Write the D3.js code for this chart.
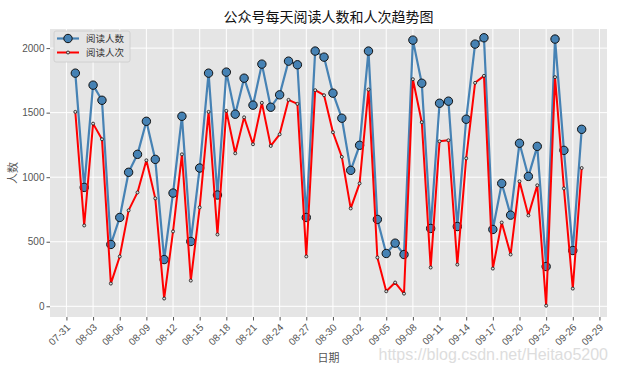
<!DOCTYPE html>
<html>
<head>
<meta charset="utf-8">
<script src="https://cdn.jsdelivr.net/npm/d3@7"></script>
<style>
  body { margin: 0; background: #fff; }
  text { font-family: "Liberation Sans", "Noto Sans CJK SC", sans-serif; }
  .cjk { font-family: "Noto Sans CJK SC", sans-serif; }
</style>
</head>
<body>
<svg id="chart" width="617" height="371"></svg>
<script>
// dates 08-01 .. 09-27
var dates = [
  '2019-08-01','2019-08-02','2019-08-03','2019-08-04','2019-08-05','2019-08-06','2019-08-07','2019-08-08',
  '2019-08-09','2019-08-10','2019-08-11','2019-08-12','2019-08-13','2019-08-14','2019-08-15','2019-08-16',
  '2019-08-17','2019-08-18','2019-08-19','2019-08-20','2019-08-21','2019-08-22','2019-08-23','2019-08-24',
  '2019-08-25','2019-08-26','2019-08-27','2019-08-28','2019-08-29','2019-08-30','2019-08-31','2019-09-01',
  '2019-09-02','2019-09-03','2019-09-04','2019-09-05','2019-09-06','2019-09-07','2019-09-08','2019-09-09',
  '2019-09-10','2019-09-11','2019-09-12','2019-09-13','2019-09-14','2019-09-15','2019-09-16','2019-09-17',
  '2019-09-18','2019-09-19','2019-09-20','2019-09-21','2019-09-22','2019-09-23','2019-09-24','2019-09-25',
  '2019-09-26','2019-09-27'
];

// 阅读人数
var readers = [
  1806, 921, 1713, 1596, 479, 688, 1038, 1177, 1433, 1138,
  362, 877, 1472, 502, 1071, 1806, 862, 1814, 1488, 1767,
  1558, 1876, 1542, 1638, 1899, 1871, 688, 1977, 1930, 1651,
  1457, 1053, 1247, 1977, 673, 409, 489, 401, 2062, 1728,
  603, 1573, 1589, 618, 1449, 2031, 2080, 595, 952, 706,
  1263, 1006, 1239, 308, 2070, 1208, 432, 1371
];

// 阅读人次
var reads = [
  1506, 626, 1415, 1294, 176, 386, 743, 882, 1131, 836,
  60, 580, 1177, 199, 766, 1506, 556, 1514, 1185, 1464,
  1255, 1576, 1242, 1332, 1599, 1568, 386, 1674, 1635, 1348,
  1157, 758, 952, 1679, 378, 116, 184, 98, 1759, 1426,
  300, 1278, 1286, 323, 1146, 1731, 1785, 292, 649, 401,
  968, 704, 937, 5, 1775, 913, 137, 1071
];

var xTickLabels = ['07-31','08-03','08-06','08-09','08-12','08-15','08-18','08-21','08-24','08-27',
  '08-30','09-02','09-05','09-08','09-11','09-14','09-17','09-20','09-23','09-26','09-29'];
var yTicks = [0, 500, 1000, 1500, 2000];

var parse = d3.timeParse('%Y-%m-%d');
var days = dates.map(parse);
var tickDates = xTickLabels.map(function (s) { return parse('2019-' + s); });

var margin = { left: 50, right: 10, top: 29, bottom: 54 };
var W = 617, H = 371;
var svg = d3.select('#chart');

// matplotlib-like 5% margins on x
var ext = d3.extent(days);
var pad = (ext[1] - ext[0]) * 0.05;
var x = d3.scaleTime()
  .domain([new Date(+ext[0] - pad), new Date(+ext[1] + pad)])
  .range([margin.left, W - margin.right]);
var y = d3.scaleLinear()
  .domain([-83, 2148])
  .range([H - margin.bottom, margin.top]);

svg.append('rect')
  .attr('x', margin.left).attr('y', margin.top)
  .attr('width', W - margin.left - margin.right)
  .attr('height', H - margin.top - margin.bottom)
  .attr('fill', '#e5e5e5');

// grid
var grid = svg.append('g');
grid.selectAll('.gx').data(tickDates).enter().append('line')
  .attr('x1', function (d) { return x(d); }).attr('x2', function (d) { return x(d); })
  .attr('y1', margin.top).attr('y2', H - margin.bottom)
  .attr('stroke', '#fff').attr('stroke-width', 1);
grid.selectAll('.gy').data(yTicks).enter().append('line')
  .attr('y1', function (d) { return y(d); }).attr('y2', function (d) { return y(d); })
  .attr('x1', margin.left).attr('x2', W - margin.right)
  .attr('stroke', '#fff').attr('stroke-width', 1);

// axes
var xAxis = svg.append('g')
  .attr('transform', 'translate(0,' + (H - margin.bottom) + ')')
  .call(d3.axisBottom(x).tickValues(tickDates).tickFormat(d3.timeFormat('%m-%d')).tickSize(3.5).tickPadding(2));
xAxis.select('.domain').remove();
xAxis.selectAll('line').attr('stroke', '#555');
xAxis.selectAll('text')
  .attr('fill', '#555').style('font-size', '10px')
  .attr('text-anchor', 'end')
  .attr('dy', '0.3em')
  .attr('transform', 'translate(-2,5) rotate(-45)');

var yAxis = svg.append('g')
  .attr('transform', 'translate(' + margin.left + ',0)')
  .call(d3.axisLeft(y).tickValues(yTicks).tickFormat(d3.format('d')).tickSize(3.5).tickPadding(2));
yAxis.select('.domain').remove();
yAxis.selectAll('line').attr('stroke', '#555');
yAxis.selectAll('text').attr('fill', '#555').style('font-size', '10px');

// series
var line = function (vals) {
  return d3.line()
    .x(function (d, i) { return x(days[i]); })
    .y(function (d) { return y(d); })(vals);
};

svg.append('path').attr('d', line(readers))
  .attr('fill', 'none').attr('stroke', '#4682b4').attr('stroke-width', 2.2)
  .attr('stroke-linejoin', 'round');
svg.append('g').selectAll('circle').data(readers).enter().append('circle')
  .attr('cx', function (d, i) { return x(days[i]); })
  .attr('cy', function (d) { return y(d); })
  .attr('r', 4.2)
  .attr('fill', '#4682b4').attr('stroke', '#111').attr('stroke-width', 1);

svg.append('path').attr('d', line(reads))
  .attr('fill', 'none').attr('stroke', '#ff0000').attr('stroke-width', 2)
  .attr('stroke-linejoin', 'round');
svg.append('g').selectAll('circle').data(reads).enter().append('circle')
  .attr('cx', function (d, i) { return x(days[i]); })
  .attr('cy', function (d) { return y(d); })
  .attr('r', 1.5)
  .attr('fill', '#ddd').attr('stroke', '#111').attr('stroke-width', 0.8);

// legend
var lg = svg.append('g');
lg.append('rect')
  .attr('x', 54).attr('y', 31).attr('width', 76).attr('height', 31).attr('rx', 2)
  .attr('fill', '#e5e5e5').attr('stroke', '#cccccc').attr('stroke-width', 0.8);
var items = [
  { name: '阅读人数', color: '#4682b4', r: 4.2, fill: '#4682b4', w: 2.2 },
  { name: '阅读人次', color: '#ff0000', r: 1.5, fill: '#ddd', w: 2 }
];
items.forEach(function (it, i) {
  var cy = 38.5 + i * 14;
  lg.append('line').attr('x1', 57).attr('x2', 79).attr('y1', cy).attr('y2', cy)
    .attr('stroke', it.color).attr('stroke-width', it.w);
  lg.append('circle').attr('cx', 68).attr('cy', cy).attr('r', it.r)
    .attr('fill', it.fill).attr('stroke', '#111').attr('stroke-width', it.r > 2 ? 1 : 0.8);
  lg.append('text').attr('class', 'cjk').attr('x', 86).attr('y', cy + 3.5)
    .attr('fill', '#333').style('font-size', '9.5px').text(it.name);
});

// title and labels
var cx = (margin.left + W - margin.right) / 2;
svg.append('text').attr('class', 'cjk')
  .attr('x', cx).attr('y', 22).attr('text-anchor', 'middle')
  .attr('fill', '#111').style('font-size', '14px').text('公众号每天阅读人数和人次趋势图');
svg.append('text').attr('class', 'cjk')
  .attr('x', cx).attr('y', 362).attr('text-anchor', 'middle')
  .attr('fill', '#555').style('font-size', '11px').text('日期');
svg.append('text').attr('class', 'cjk')
  .attr('transform', 'translate(17,' + ((margin.top + H - margin.bottom) / 2) + ') rotate(-90)')
  .attr('text-anchor', 'middle')
  .attr('fill', '#555').style('font-size', '11px').text('人数');

// watermark
svg.append('text')
  .attr('x', 608).attr('y', 360).attr('text-anchor', 'end')
  .attr('fill', '#dddddd').style('font-size', '16px')
  .text('https://blog.csdn.net/Heitao5200');
</script>
</body>
</html>
